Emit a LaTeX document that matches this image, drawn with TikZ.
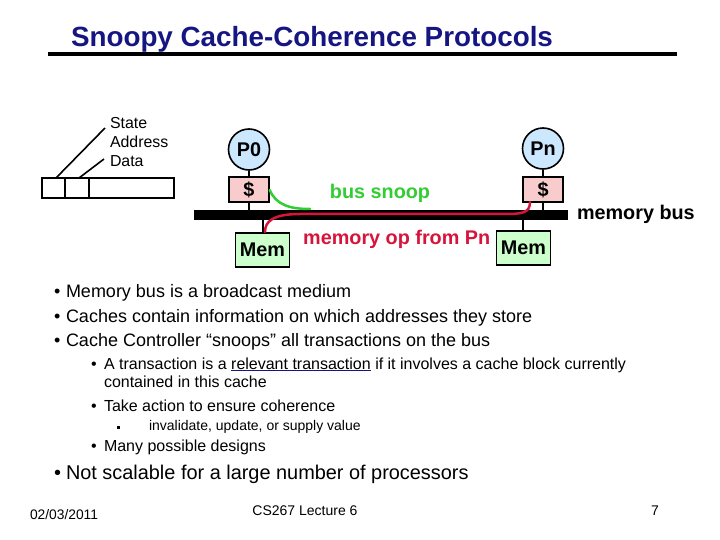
\documentclass[tikz,border=0pt]{standalone}
\usepackage{fontspec}
\setmainfont{Liberation Sans}
\definecolor{navy}{RGB}{22,22,130}
\definecolor{pblue}{RGB}{204,232,255}
\definecolor{ppink}{RGB}{248,204,204}
\definecolor{pgreen}{RGB}{204,255,204}
\definecolor{snoopgreen}{RGB}{51,204,51}
\definecolor{opred}{RGB}{214,20,60}
\begin{document}
\begin{tikzpicture}[x=1pt,y=-1pt,
  txt/.style={anchor=base west,inner sep=0pt,outer sep=0pt},
  lone/.style={txt,font=\fontsize{18}{21}\selectfont},
  ltwo/.style={txt,font=\fontsize{16}{19}\selectfont},
  lthree/.style={txt,font=\fontsize{14}{16}\selectfont},
  bold/.style={font=\bfseries\fontsize{19.8}{22}\selectfont},
  proc/.style={circle,draw,line width=1.6pt,fill=pblue,minimum size=41pt,inner sep=0pt,bold},
  cachebox/.style={rectangle,draw,line width=1.4pt,fill=ppink,minimum width=40pt,minimum height=25pt,inner sep=0pt,bold},
  membox/.style={rectangle,draw,line width=1.4pt,fill=pgreen,minimum width=54pt,minimum height=34pt,inner sep=0pt,bold},
  wire/.style={line width=1.4pt}]
\useasboundingbox (0,0) rectangle (720,540);
% title
\node[txt,font=\bfseries\fontsize{27.8}{31}\selectfont,text=navy] (title) at (71,47) {Snoopy Cache-Coherence Protocols};
\draw[line width=4pt] (48,54) -- (677,54);
% cache line
\draw[line width=1.6pt] (42,178) rectangle (174,198);
\draw[line width=1.6pt] (65,178) -- (65,198) (89,178) -- (89,198);
\coordinate (s1) at (56,178);
\coordinate (s2) at (79,178);
\node[txt,font=\fontsize{15.9}{18}\selectfont] (st) at (110,129) {State};
\node[txt,font=\fontsize{15.9}{18}\selectfont] (ad) at (110,148) {Address};
\node[txt,font=\fontsize{15.9}{18}\selectfont] (da) at (110,167) {Data};
\draw[line width=1.6pt] (s1) -- (105,128);
\draw[line width=1.6pt] (s2) -- (104,159);
% bus
\fill (194,210) rectangle (568,220);
\node[txt,bold] (mbus) at (577,220) {memory bus};
% processors
\node[proc] (p0) at (249,149.5) {P0};
\node[proc] (pn) at (543,148.5) {Pn};
\node[cachebox] (c0) at (249,189.5) {\$};
\node[cachebox] (cn) at (543,189.5) {\$};
\node[membox] (m0) at (262.5,250) {Mem};
\node[membox] (mn) at (523.5,248) {Mem};
\draw[wire] (p0.south) -- (c0.north);
\draw[wire] (pn.south) -- (cn.north);
\draw[wire] (c0.south) -- (249,210);
\draw[wire] (cn.south) -- (543,210);
\draw[wire] (263,220) -- (m0.north -| 263,0);
\draw[wire] (523,220) -- (mn.north -| 523,0);
% labels
\node[anchor=base,inner sep=0pt,bold,text=snoopgreen] (bs) at (380,199) {bus snoop};
\node[anchor=base west,inner sep=0pt,bold,text=opred] (mo) at (303,244) {memory op from Pn};
% curves
\draw[snoopgreen,line width=2.5pt,line cap=round] (c0.east |- 0,190) .. controls (276,205) and (290,209) .. (310,209);
\draw[opred,line width=2.5pt,line cap=round] (530,202) .. controls (530,213) and (522,214) .. (505,214) -- (300,214) .. controls (272,214) and (265,222) .. (265,232);
% bullets
\node[lone] (b1d) at (54,297) {\textbullet};
\node[lone] (b1) at (66,297) {Memory bus is a broadcast medium};
\node[lone] (b2d) at (54,322) {\textbullet};
\node[lone] (b2) at (66,322) {Caches contain information on which addresses they store};
\node[lone] (b3d) at (54,346) {\textbullet};
\node[lone] (b3) at (66,346) {Cache Controller “snoops” all transactions on the bus};
\node[ltwo] (c1d) at (91,369) {\textbullet};
\node[ltwo] (c1) at (104,369) {A transaction is a \textcolor{navy}{\underline{\textcolor{black}{relevant transaction}}} if it involves a cache block currently};
\node[ltwo] (c1b) at (104,387) {contained in this cache};
\node[ltwo] (c2d) at (91,411) {\textbullet};
\node[ltwo] (c2) at (104,411) {Take action to ensure coherence};
\node[lthree] (d1) at (117,430) {\rule[1.5pt]{2.5pt}{2.5pt}};
\node[lthree] (d1t) at (149,430) {invalidate, update, or supply value};
\node[ltwo] (c3d) at (91,451) {\textbullet};
\node[ltwo] (c3) at (104,451) {Many possible designs};
\node[txt,font=\fontsize{19.9}{23}\selectfont] (b4d) at (54,479) {\textbullet};
\node[txt,font=\fontsize{19.9}{23}\selectfont] (b4) at (66,479) {Not scalable for a large number of processors};
% footer
\node[txt,font=\fontsize{13.8}{16}\selectfont] (date) at (30,519) {02/03/2011};
\node[anchor=base,inner sep=0pt,font=\fontsize{14}{16}\selectfont] (lec) at (305,515) {CS267 Lecture 6};
\node[anchor=base,inner sep=0pt,font=\fontsize{14}{16}\selectfont] (pg) at (655,515) {7};
\end{tikzpicture}
\end{document}
